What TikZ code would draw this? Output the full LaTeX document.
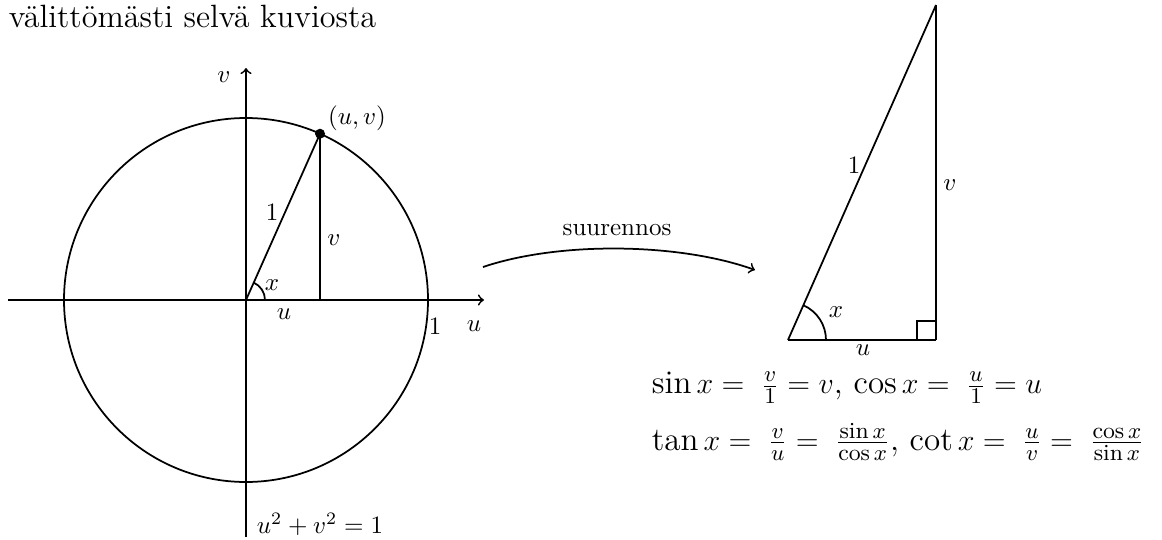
\documentclass[tikz,border=0pt]{standalone}
\usepackage{fontspec}
\usetikzlibrary{calc}
\begin{document}
\begin{tikzpicture}[x=0.4pt,y=-0.4pt,line width=0.7pt,
  lbl/.style={inner sep=1pt,font=\fontsize{10}{12}\selectfont},
  formula/.style={anchor=west,inner sep=0pt,font=\fontsize{13.2}{16}\selectfont},
  arrowconn/.style={->}]
\useasboundingbox (0,0) rectangle (1162,540);
% title
\node[anchor=west,inner sep=0pt,font=\fontsize{12.9}{15}\selectfont] (title) at (8,16) {välittömästi selvä kuviosta};
% unit circle
\coordinate (O) at (246,300);
\coordinate (xl) at (8,300);
\coordinate (xr) at (484,300);
\coordinate (yb) at (246,537);
\coordinate (yt) at (246,68);
\draw (O) circle[radius=72.8pt];
\draw[arrowconn] (xl) -- (xr);
\draw[arrowconn] (yb) -- (yt);
\coordinate (P) at ([shift={(-66:182)}]O);
\coordinate (F) at (P |- O);
\draw (O) -- (P);
\draw (P) -- (F);
\fill (P) circle[radius=2pt];
\draw ([shift={(19,0)}]O) arc[start angle=0,end angle=66,radius=7.6pt];
\node[lbl] (lx) at (272,285) {$x$};
\node[lbl] (lu) at (284,314) {$u$};
\node[lbl] (lv) at (334,240) {$v$};
\node[lbl] (l1) at (272,212) {$1$};
\node[lbl] (lone) at (435,326) {$1$};
\node[lbl] (au) at (474,326) {$u$};
\node[lbl] (av) at (224,77) {$v$};
\node[lbl] (luv) at (357,118) {$(u,v)$};
\node[lbl] (eq) at (320,524) {$u^2+v^2=1$};
% arrow
\coordinate (s1) at (483,267);
\coordinate (s2) at (755,270);
\draw[arrowconn] (s1) .. controls (560,241) and (680,243) .. (s2);
\node[lbl] (suur) at (617,230) {suurennos};
% triangle
\coordinate (A) at (788,340);
\coordinate (B) at (936,340);
\coordinate (C) at (936,5);
\draw (A) -- (C);
\draw (C) -- (B);
\draw (B) -- (A);
\draw ([shift={(-19,0)}]B) -- ++(0,-19) -- ++(19,0);
\draw ([shift={(38,0)}]A) arc[start angle=0,end angle=66,radius=15.2pt];
\node[lbl] (tx) at (836,312) {$x$};
\node[lbl] (t1) at (854,165) {$1$};
\node[lbl] (tv) at (950,185) {$v$};
\node[lbl] (tu) at (863,350) {$u$};
% formulas
\node[formula] (f1) at (651,388) {$\sin x = \;\frac{v}{1} = v$, $\cos x = \;\frac{u}{1} = u$};
\node[formula] (f2) at (651,442) {$\tan x = \;\frac{v}{u} = \;\frac{\sin x}{\cos x}$, $\cot x = \;\frac{u}{v} = \;\frac{\cos x}{\sin x}$};
\end{tikzpicture}
\end{document}
